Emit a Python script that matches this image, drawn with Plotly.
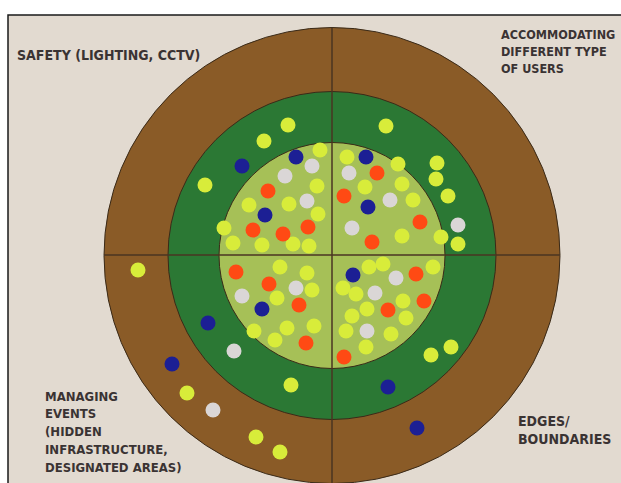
import plotly.graph_objects as go

W, H = 621, 483

# Dot positions on the poster (x to the right, y downwards, in poster units)
yellow_x = [288, 264, 205, 320, 317, 289, 249, 318, 224, 233, 262, 293, 309,
            386, 347, 398, 437, 436, 365, 402, 413, 448, 402, 441, 458,
            280, 307, 312, 277, 254, 287, 314, 275, 291, 138, 187, 256, 280,
            369, 383, 433, 343, 356, 403, 367, 406, 352, 346, 391, 366, 431, 451]
yellow_y = [125, 141, 185, 150, 186, 204, 205, 214, 228, 243, 245, 244, 246,
            126, 157, 164, 163, 179, 187, 184, 200, 196, 236, 237, 244,
            267, 273, 290, 298, 331, 328, 326, 340, 385, 270, 393, 437, 452,
            267, 264, 267, 288, 294, 301, 309, 318, 316, 331, 334, 347, 355, 347]

white_x = [312, 285, 307, 349, 390, 352, 458, 296, 242, 234, 213, 396, 375, 367]
white_y = [166, 176, 201, 173, 200, 228, 225, 288, 296, 351, 410, 278, 293, 331]

orange_x = [268, 253, 283, 308, 377, 344, 420, 372, 236, 269, 299, 306, 416, 424, 388, 344]
orange_y = [191, 230, 234, 227, 173, 196, 222, 242, 272, 284, 305, 343, 274, 301, 310, 357]

blue_x = [242, 296, 265, 366, 368, 262, 208, 172, 353, 388, 417]
blue_y = [166, 157, 215, 157, 207, 309, 323, 364, 275, 387, 428]

series = [
    ("yellow", yellow_x, yellow_y, "#D8EC3A"),
    ("white", white_x, white_y, "#DAD6D6"),
    ("orange", orange_x, orange_y, "#FF4A14"),
    ("blue", blue_x, blue_y, "#1C1F94"),
]

# Target rings
CX, CY = 332, 255.5
ring_radii = [228, 164, 113]
ring_colors = ["#8A5B27", "#2B7834", "#A6C057"]

# Quadrant labels: lines of text
label_safety = ["SAFETY (LIGHTING, CCTV)"]
label_users = ["ACCOMMODATING", "DIFFERENT TYPE", "OF USERS"]
label_events = ["MANAGING", "EVENTS", "(HIDDEN", "INFRASTRUCTURE,", "DESIGNATED AREAS)"]
label_edges = ["EDGES/", "BOUNDARIES"]

# (lines, left x, first line centre y, line step, font size)
label_layout = [
    (label_safety, 15, 54.5, 0, 14),
    (label_users, 499, 34, 17.3, 12.5),
    (label_events, 43, 396, 17.75, 13),
    (label_edges, 516, 421, 18, 14),
]

fig = go.Figure()
for name, xs, ys, col in series:
    fig.add_trace(go.Scatter(
        x=xs, y=ys, mode="markers", name=name, hoverinfo="skip",
        marker=dict(size=15, color=col, line=dict(width=0)),
    ))

shapes = [
    dict(type="rect", x0=8, y0=15, x1=W + 50, y1=H + 50,
         fillcolor="#E2DAD0", line=dict(color="#1a1a1a", width=1.5), layer="below"),
]
for r, col in zip(ring_radii, ring_colors):
    shapes.append(dict(type="circle", x0=CX - r, x1=CX + r, y0=CY - r, y1=CY + r,
                       fillcolor=col, line=dict(color="#3A2A18", width=1), layer="below"))
shapes.append(dict(type="line", x0=CX, x1=CX, y0=CY - ring_radii[0], y1=H + 10,
                   line=dict(color="#4A3522", width=1.5), layer="below"))
shapes.append(dict(type="line", x0=CX - ring_radii[0], x1=CX + ring_radii[0], y0=255, y1=255,
                   line=dict(color="#4A3522", width=1.5), layer="below"))

annotations = []
for lines, x, y0, step, size in label_layout:
    for i, line in enumerate(lines):
        annotations.append(dict(
            text=line, x=x, y=y0 + i * step, xref="x", yref="y",
            xanchor="left", yanchor="middle", align="left", showarrow=False,
            font=dict(family="DejaVu Sans Condensed, DejaVu Sans", size=size,
                      color="#3A3333", weight="bold"),
        ))

fig.update_layout(
    width=W, height=H, autosize=False,
    margin=dict(l=0, r=0, t=0, b=0),
    paper_bgcolor="#FFFFFF", plot_bgcolor="#FFFFFF",
    showlegend=False,
    xaxis=dict(range=[0, W], visible=False, fixedrange=True),
    yaxis=dict(range=[H, 0], visible=False, fixedrange=True),
    shapes=shapes, annotations=annotations,
)

fig.write_html(
    "out.html",
    config={"displayModeBar": False, "staticPlot": True},
    post_script="document.body.style.margin='0';document.body.style.overflow='hidden';",
)
